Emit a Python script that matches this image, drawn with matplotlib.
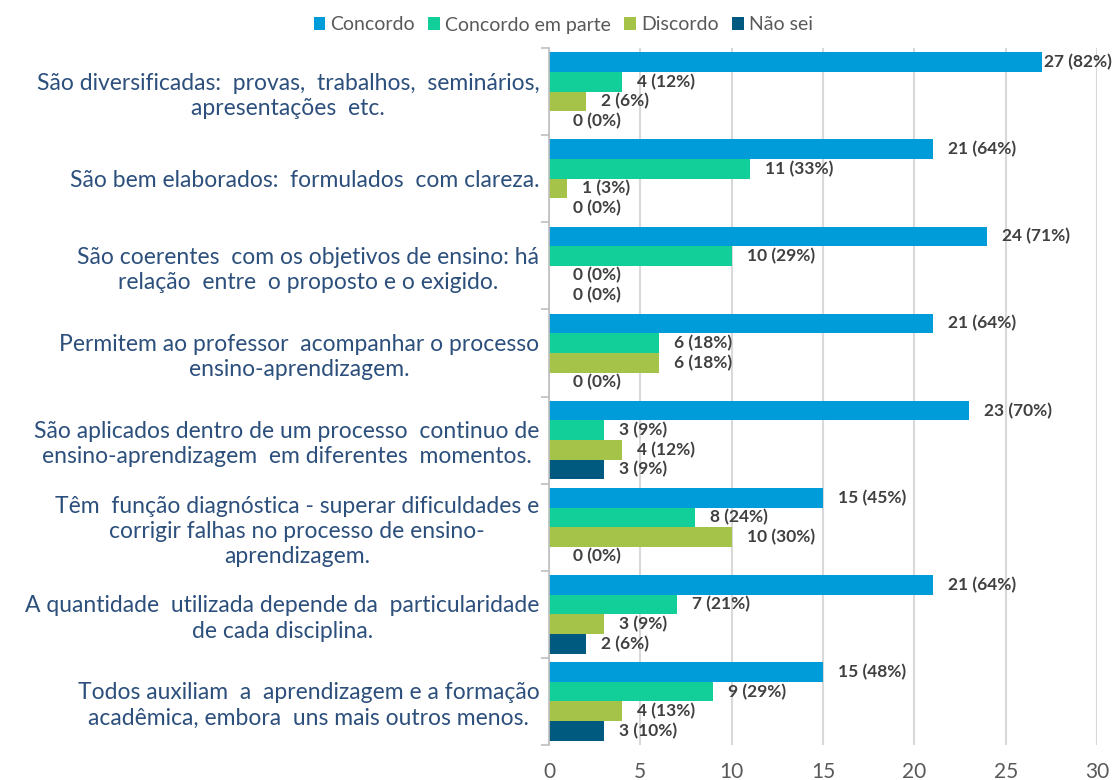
import matplotlib
matplotlib.use("Agg")
import matplotlib.pyplot as plt
from matplotlib.patches import Patch
import numpy as np

plt.rcParams['font.family'] = ['Lato', 'DejaVu Sans']

categories = [
    "São diversificadas:  provas,  trabalhos,  seminários,\napresentações  etc.",
    "São bem elaborados:  formulados  com clareza.",
    "São coerentes  com os objetivos de ensino: há\nrelação  entre  o proposto e o exigido.",
    "Permitem ao professor  acompanhar o processo\nensino-aprendizagem.",
    "São aplicados dentro de um processo  continuo de\nensino-aprendizagem  em diferentes  momentos.",
    "Têm  função diagnóstica - superar dificuldades e\ncorrigir falhas no processo de ensino-\naprendizagem.",
    "A quantidade  utilizada depende da  particularidade\nde cada disciplina.",
    "Todos auxiliam  a  aprendizagem e a formação\nacadêmica, embora  uns mais outros menos.",
]
series_names = ["Concordo", "Concordo em parte", "Discordo", "Não sei"]
concordo = [27, 21, 24, 21, 23, 15, 21, 15]
concordo_pct = [82, 64, 71, 64, 70, 45, 64, 48]
em_parte = [4, 11, 10, 6, 3, 8, 7, 9]
em_parte_pct = [12, 33, 29, 18, 9, 24, 21, 29]
discordo = [2, 1, 0, 6, 4, 10, 3, 4]
discordo_pct = [6, 3, 0, 18, 12, 30, 9, 13]
nao_sei = [0, 0, 0, 0, 3, 0, 2, 3]
nao_sei_pct = [0, 0, 0, 0, 9, 0, 6, 10]
x_ticks = [0, 5, 10, 15, 20, 25, 30]

colors = ["#009BD9", "#12CF9A", "#A5C249", "#005A80"]
values = [concordo, em_parte, discordo, nao_sei]
pcts = [concordo_pct, em_parte_pct, discordo_pct, nao_sei_pct]

W, H = 1115, 780
fig = plt.figure(figsize=(W / 100, H / 100), dpi=100)
ax = fig.add_axes([549 / W, 1 - 745 / H, (1097 - 549) / W, (745 - 48) / H])

n = len(categories)
y = np.arange(n)
h = 0.225
offsets = [-1.5 * h, -0.5 * h, 0.5 * h, 1.5 * h]

texts = []
for s in range(4):
    ax.barh(y + offsets[s], values[s], height=h, color=colors[s], zorder=3)
    for i in range(n):
        v = values[s][i]
        off = 24 if v == 0 else 15
        t = ax.annotate(f"{v} ({pcts[s][i]}%)", xy=(v, y[i] + offsets[s]),
                        xytext=(off * 72 / 100, 0), textcoords="offset points",
                        ha="left", va="center", fontsize=12.5, fontweight="bold",
                        color="#404040", zorder=4, annotation_clip=False)
        texts.append(t)

ax.set_xlim(0, 30)
ax.set_ylim(n - 0.5, -0.5)
ax.set_xticks(x_ticks)
ax.set_xticklabels([str(t) for t in x_ticks])
ax.tick_params(axis="x", length=0, pad=12, labelsize=15, labelcolor="#595959")
ax.set_yticks(y)
ax.set_yticklabels(categories, fontsize=16.5, color="#2C4F7C",
                   multialignment="center", linespacing=1.25)
ax.tick_params(axis="y", length=0, pad=7)
ax.set_yticks(np.arange(n + 1) - 0.5, minor=True)
ax.tick_params(axis="y", which="minor", length=6, color="#BFBFBF", width=1.2)
ax.xaxis.grid(True, color="#D9D9D9", linewidth=1.5, zorder=0)
for sp in ["top", "right", "bottom"]:
    ax.spines[sp].set_visible(False)
ax.spines["left"].set_color("#BFBFBF")
ax.spines["left"].set_linewidth(1.2)
ax.spines["left"].set_zorder(5)

handles = [Patch(facecolor=c, edgecolor="none") for c in colors]
fig.legend(handles, series_names, loc="center", bbox_to_anchor=(0.505, 1 - 25 / H), ncol=4,
           frameon=False, fontsize=14, labelcolor="#595959", handlelength=0.6,
           handleheight=0.6, handletextpad=0.25, columnspacing=0.7)

# keep labels inside the figure
fig.canvas.draw()
r = fig.canvas.get_renderer()
for t in texts:
    bb = t.get_window_extent(r)
    if bb.x1 > W - 3:
        shift = (bb.x1 - (W - 3)) * 72 / 100
        x0, y0 = t.xyann
        t.xyann = (x0 - shift, y0)

fig.savefig("out.png", dpi=100)
